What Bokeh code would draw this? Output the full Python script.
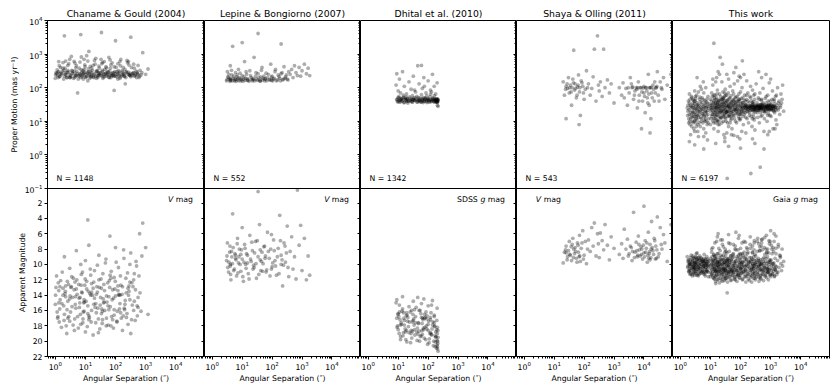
from bokeh.plotting import figure
from bokeh.layouts import column, row
from bokeh.models import Range1d, FixedTicker, Label, LogAxis, LinearAxis
from bokeh.embed import file_html
from bokeh.resources import INLINE

# ---------------- data (sep ["], proper motion [mas/yr], apparent mag) ----------------
titles = ["Chaname & Gould (2004)", "Lepine & Bongiorno (2007)", "Dhital et al. (2010)",
          "Shaya & Olling (2011)", "This work"]
counts = ["N = 1148", "N = 552", "N = 1342", "N = 543", "N = 6197"]
mag_prefix = ["", "", "SDSS", "", "Gaia"]
mag_italic = ["V", "V", "g", "V", "g"]

cg_stars = [(1.0,190,15.2),(1.1,260,11.5),(1.2,230,17.0),(1.3,300,13.4),(1.4,210,15.8),(1.5,400,12.1),
    (1.6,250,18.2),(1.8,560,14.0),(2.0,3500,9.0),(2.0,220,16.5),(2.2,280,12.8),(2.4,200,19.0),(2.6,330,14.8),
    (3.0,700,10.5),(3.0,240,17.4),(3.3,210,13.0),(3.6,270,15.5),(4.0,190,11.8),(4.3,310,18.6),(4.7,240,14.2),
    (5.0,450,8.2),(5.5,70,16.8),(6.0,220,12.6),(6.5,260,15.0),(7.0,3800,10.0),(7.0,200,17.8),(7.5,290,13.6),
    (8.0,230,11.0),(8.5,180,16.2),(9.0,350,14.6),(10,250,9.5),(10,210,18.8),(11,900,12.2),(12,270,15.4),
    (12,160,4.2),(13,1200,7.5),(13,230,17.2),(14,190,13.8),(15,300,11.4),(16,240,16.0),(18,210,19.2),(20,650,10.8),
    (20,260,14.4),(22,220,17.6),(24,320,12.9),(26,200,15.7),(28,250,8.8),(30,280,18.4),(34,4400,13.1),
    (34,230,16.4),(38,190,11.2),(42,600,14.9),(46,260,9.8),(50,220,17.0),(55,300,12.4),(60,800,15.9),
    (65,240,6.3),(70,200,18.0),(80,270,13.3),(90,83,11.7),(90,230,16.6),(100,2500,14.1),(100,260,7.8),
    (110,210,17.4),(125,320,10.4),(140,190,15.1),(150,700,12.7),(170,250,18.6),(190,220,9.2),(210,130,14.7),
    (230,280,16.9),(250,550,11.1),(280,240,13.5),(320,3200,19.0),(320,210,8.5),(360,260,15.3),(400,500,12.0),
    (450,230,17.3),(500,200,10.2),(560,250,14.3),(630,220,6.0),(700,240,16.1),(800,1100,4.6),(1000,250,7.8),
    (1200,360,16.5),(3.0,200,14.5),(5.0,230,13.2),(15,215,14.0),(25,225,13.6),(40,245,15.0),(60,205,14.2),
    (80,235,17.2),(130,225,13.9),(200,215,15.9),(300,230,12.3),
    (1.05,280,13.0),(1.15,340,16.2),(1.25,200,12.4),(1.35,450,17.5),(1.45,260,14.6),(1.7,310,11.0),
    (1.9,180,15.4),(2.1,380,13.8),(2.3,240,18.0),(2.5,290,12.2),(2.8,520,16.8),(3.1,200,14.1),(3.5,330,11.6),
    (3.9,260,17.9),(4.2,610,13.3),(4.6,220,15.2),(5.2,300,12.0),(5.8,180,18.3),(6.2,380,14.4),(6.8,250,16.5),
    (7.3,820,11.3),(7.8,210,13.7),(8.3,320,17.1),(8.8,270,15.0),(9.5,480,12.7),(10.5,200,14.8),(11.5,290,18.1),
    (12.5,360,13.5),(13.5,250,16.9),(14.5,430,10.6),(15.5,210,17.5),(17,330,14.0),(19,240,12.3),(21,500,15.6),
    (23,190,16.3),(25,310,10.1),(27,270,18.9),(29,380,13.0),(31,230,15.3),(33,700,11.9),(36,300,17.7),
    (39,210,14.5),(41,260,12.6),(44,350,16.0),(48,420,9.3),(52,240,14.9),(57,290,17.9),(62,200,12.1),
    (67,380,15.5),(72,260,10.9),(77,550,14.6),(85,220,18.3),(95,300,13.2),(105,400,9.7),(115,250,16.1),
    (120,180,12.8),(135,290,15.8),(145,450,11.5),(155,230,17.0),(165,320,13.9),(185,260,8.1),(205,350,15.2),
    (220,200,11.8),(240,650,16.4),(260,290,13.1),(300,240,10.0),(340,400,17.2),(380,270,12.9),(420,220,14.8),
    (480,310,9.6),(530,260,16.7),(600,200,11.5),(650,330,13.7),(750,280,8.9),
    (1.02,240,14.0),(1.22,290,16.8),(1.42,220,12.9),(1.65,270,15.1),(1.95,330,17.3),(2.15,250,13.5),
    (2.45,200,15.9),(2.75,290,12.6),(3.2,230,16.2),(3.7,310,14.3),(4.4,200,17.1),(5.3,260,13.9),(6.3,230,15.6),
    (7.2,340,12.7),(8.2,250,17.6),(9.2,290,14.9),(11,220,13.2),(13,300,16.7),(16,270,12.5),(19,200,15.2),
    (23,300,13.9),(27,230,17.1),(32,270,14.3),(37,330,16.1),(43,210,13.4),(49,280,18.0),(56,250,15.4),
    (64,310,13.0),(74,230,16.8),(86,280,14.4),(98,220,12.2),(112,300,17.5),(128,260,14.0),(148,210,16.3),
    (170,290,12.9),(195,240,15.7),(225,300,13.7),(260,250,17.8),(300,270,14.6),(350,230,12.4),(400,280,16.0),
    (460,250,13.3),(520,290,15.4),(2.2,620,14.2),(4.5,540,12.3),(9,700,16.1),(18,460,13.1),(35,520,15.8),
    (70,480,11.8),(140,600,14.0),(280,470,12.8),
    (1.3,600,15.0),(1.8,380,13.1),(2.6,460,17.0),(3.4,850,12.9),(4.8,390,15.7),(6.6,580,14.3),(9.8,420,11.9),
    (12,620,16.4),(16,380,13.6),(22,750,15.1),(28,440,12.0),(37,560,17.2),(50,390,14.1),(66,670,11.4),
    (90,420,15.9),(120,520,13.4),(180,400,16.7),(270,600,14.0),(420,380,11.2),(560,460,15.6)]

lb_stars = [(3.0,160,9.5),(3.2,300,7.2),(3.5,200,11.0),(3.8,180,8.4),(4.0,450,10.2),(4.2,170,12.0),
    (4.5,240,9.0),(4.8,1700,3.4),(5.0,190,7.8),(5.5,160,10.6),(6.0,280,8.8),(6.5,210,11.5),(7.0,170,6.6),
    (7.5,350,9.8),(8.0,200,8.0),(9.0,160,10.9),(10,2200,5.2),(10,230,9.3),(11,180,12.2),(12,600,7.4),
    (13,190,10.0),(14,250,8.6),(16,170,11.2),(18,320,6.2),(20,200,9.6),(22,160,8.2),(25,800,10.4),
    (28,220,7.0),(30,180,11.8),(34,4100,0.5),(34,260,9.0),(38,170,4.8),(42,210,10.8),(46,400,8.4),
    (50,190,9.9),(56,160,7.6),(63,270,11.0),(70,200,5.8),(80,170,9.2),(90,500,8.0),(100,220,10.3),
    (112,180,6.8),(125,300,9.5),(140,160,11.4),(160,240,7.9),(180,190,3.6),(200,2000,10.0),(200,260,8.8),
    (225,170,12.8),(250,420,7.2),(280,210,9.7),(320,180,5.0),(360,300,11.6),(400,250,8.3),(450,350,6.4),
    (500,200,10.6),(560,450,9.0),(630,280,11.9),(700,230,0.3),(800,400,7.5),(900,220,4.9),(1000,320,10.8),
    (1200,500,6.6),(1400,260,12.0),(1600,380,8.9),(1800,230,11.4),(4.0,165,10.0),(6.0,175,9.2),
    (9.0,185,8.7),(15,165,9.8),(24,175,10.1),(40,160,9.4),(60,180,8.9),(95,165,10.6),
    (3.1,175,8.9),(3.3,210,10.4),(3.6,250,9.7),(3.9,155,7.6),(4.1,190,11.3),(4.4,330,8.3),(4.7,160,9.9),
    (5.2,220,10.8),(5.7,180,8.6),(6.2,155,9.4),(6.8,240,7.3),(7.2,190,11.1),(7.8,160,9.0),(8.5,270,10.0),
    (9.5,175,8.1),(10.5,155,11.6),(11.5,210,9.7),(12.5,165,7.9),(13.5,300,10.5),(15,185,8.8),(17,155,11.9),
    (19,230,9.3),(21,175,7.1),(23,190,10.6),(26,160,8.5),(29,280,9.9),(32,165,6.9),(36,200,11.3),
    (40,155,8.1),(44,330,9.6),(48,170,10.9),(53,220,7.7),(58,185,9.2),(66,160,10.7),(75,250,8.3),
    (85,175,11.5),(95,205,6.1),(105,160,9.8),(118,190,8.2),(130,350,10.2),(150,170,9.0),(170,215,11.2),
    (190,160,6.9),(215,280,9.4),(240,180,10.1),(270,190,7.6),(300,240,8.5),(340,170,10.4)]

dh_stars = [(9,45,17.0),(10,40,18.5),(11,50,16.2),(12,38,19.4),(13,47,17.8),(14,42,15.8),(15,52,18.9),
    (16,36,17.3),(18,44,19.8),(20,48,16.6),(22,39,18.1),(24,53,17.5),(26,42,20.2),(28,46,16.0),(30,37,18.7),
    (33,50,17.1),(36,41,19.2),(40,45,15.6),(44,38,18.3),(48,51,17.7),(52,43,20.0),(57,40,16.4),(62,47,18.6),
    (68,36,17.2),(74,44,19.6),(80,50,16.9),(88,39,18.0),(96,46,20.4),(105,42,17.4),(115,53,19.0),(125,38,16.3),
    (135,45,18.4),(150,41,20.6),(160,48,17.6),(170,37,19.3),(180,44,18.8),(190,40,20.9),(200,46,19.9),
    (205,36,18.2),(210,42,20.3),(9.5,38,18.0),(10.5,55,16.8),(12.5,44,17.6),(17,49,18.4),(21,35,16.9),
    (27,40,19.0),(34,43,17.9),(42,55,18.8),(55,38,19.4),(65,42,17.0),(78,47,18.2),(92,36,16.7),(110,40,19.7),
    (140,50,17.9),(175,43,20.1),(195,38,17.3),(215,45,19.5),(11.5,42,17.2),(19,41,18.6),(31,44,16.5),
    (46,41,19.1),(70,40,18.5),(100,44,17.8),(130,42,19.2),(165,40,18.0),(208,41,20.0),(8.5,120,15.0),
    (9,260,14.6),(10,80,16.4),(11,180,15.3),(12,70,19.8),(14,300,14.2),(16,110,17.9),(19,65,16.3),
    (23,150,15.5),(27,90,18.6),(32,220,14.8),(38,75,17.6),(45,450,14.3),(50,130,16.0),(60,460,15.1),
    (64,95,19.1),(72,200,14.5),(85,70,16.2),(100,160,15.4),(120,85,18.9),(140,250,14.7),(160,110,16.8),
    (180,65,19.5),(200,140,15.7),(215,28,21.3),(205,30,20.7),
    (9.2,43,18.2),(9.8,50,16.5),(10.8,37,19.0),(11.8,46,17.9),(13.5,40,16.1),(14.5,49,19.3),(15.5,36,17.0),
    (17.5,44,18.8),(18.5,52,16.7),(19.5,39,20.1),(20.5,45,17.4),(23,41,18.9),(25,48,16.2),(28.5,38,19.6),
    (31.5,46,17.3),(35,42,18.5),(38,50,16.8),(43,37,19.9),(47,45,17.6),(50,41,18.7),(54,49,16.0),(59,37,19.3),
    (63,44,17.7),(70,51,18.3),(76,39,16.5),(83,45,19.8),(90,42,17.1),(100,48,18.6),(108,37,20.2),(118,44,16.9),
    (130,40,19.1),(145,46,17.5),(155,38,20.0),(165,45,18.1),(172,41,20.7),(185,47,19.4),(192,37,18.5),
    (198,43,20.5),(202,39,19.0),(207,46,21.0),(212,40,18.6),(15,60,16.3),(30,58,17.5),(60,62,16.9),
    (90,57,18.4),(120,64,17.2),(160,58,16.6),(35,85,15.9),(75,110,17.0),(130,75,15.3)]

so_stars = [(20,150,9.8),(22,60,8.4),(25,110,7.6),(25,12,8.5),(28,95,9.0),(30,200,8.2),(32,70,7.0),
    (35,120,8.8),(38,30,9.5),(40,100,7.4),(42,180,6.6),(45,1300,8.0),(48,85,8.6),(50,130,7.8),(55,50,9.2),
    (60,105,7.2),(65,240,8.4),(68,8,9.0),(70,75,6.2),(75,15,9.6),(80,160,7.9),(90,110,5.6),(100,45,8.8),
    (110,90,7.0),(120,320,9.9),(140,130,6.8),(160,60,8.3),(180,95,5.2),(200,210,7.6),(220,1400,4.6),
    (250,40,8.9),(280,3500,6.0),(300,120,7.3),(320,80,9.1),(350,150,5.9),(400,55,6.9),(450,1400,8.1),
    (500,100,4.8),(600,170,7.5),(700,70,9.4),(800,130,6.4),(1000,35,7.9),(1500,100,8.7),(1800,60,7.3),
    (2000,140,9.2),(2200,50,5.4),(2500,95,8.0),(2800,30,6.7),(3000,100,8.9),(3500,200,7.6),(4000,100,9.5),
    (4200,105,8.3),(4500,45,3.2),(5000,80,8.4),(5500,100,7.1),(6000,25,9.0),(6200,100,8.8),(6500,150,6.3),
    (7000,60,8.1),(8000,100,7.7),(8300,6,8.7),(9000,40,9.3),(9500,98,7.5),(10000,110,2.4),(10000,70,8.5),
    (11000,18,6.9),(12000,100,7.9),(13000,50,9.7),(14000,250,5.8),(15000,30,8.6),(16000,100,7.4),
    (16000,4.5,9.4),(17000,12,9.1),(17500,102,8.0),(18000,70,4.4),(20000,120,8.2),(22000,40,6.6),
    (25000,100,7.6),(26000,100,9.2),(28000,300,3.8),(30000,60,9.0),(35000,150,5.2),(40000,90,8.0),
    (45000,200,6.1),(50000,45,7.2),(60000,120,9.6),(80000,250,4.8),
    (24,90,8.1),(27,130,9.4),(33,100,8.7),(37,75,7.7),(44,140,9.1),(52,95,8.3),(58,60,9.7),(63,120,7.5),
    (72,100,8.9),(85,140,7.2),(95,70,9.3),(130,100,8.0),(3200,70,8.6),(3800,130,7.8),(4800,60,9.1),
    (5800,90,8.2),(6800,40,7.4),(7500,100,8.9),(8500,75,8.0),(10500,55,9.0),(11500,100,8.4),(12500,80,7.2),
    (13500,35,8.8),(14500,65,9.2),(15500,100,8.3),(19000,50,7.8),(21000,90,8.7),(23000,150,6.9),
    (24000,70,9.3),(27000,110,8.1),(32000,40,8.6),(38000,100,7.4)]

tw_stars = [(1.8,20,10.2),(1.9,12,9.4),(2.0,35,10.8),(2.1,8,9.9),(2.2,25,11.2),(2.3,15,8.8),(2.4,50,10.4),
    (2.5,10,9.6),(2.6,18,11.0),(2.7,30,9.2),(2.8,6,10.6),(2.9,22,9.8),(3.0,14,11.4),(3.1,40,10.0),(3.2,9,9.0),
    (3.3,28,10.7),(3.4,16,8.6),(3.5,60,9.7),(3.6,11,10.9),(3.7,24,9.3),(3.8,5,10.3),(3.9,32,11.5),(4.0,13,9.5),
    (4.2,19,10.1),(4.4,45,8.9),(4.6,7,10.5),(4.8,26,9.1),(5.0,12,11.1),(5.2,36,10.0),(5.4,17,9.6),(5.6,9,10.8),
    (5.8,23,9.4),(6.0,70,10.2),(6.2,14,8.7),(6.4,30,11.3),(6.6,10,9.9),(6.8,20,10.6),(7.0,4.5,9.3),(7.2,38,10.4),
    (7.4,15,11.0),(7.6,27,9.0),(7.8,8,10.7),(8.0,21,9.7),(8.3,55,10.1),(8.6,12,11.6),(9.0,33,9.5),(2.2,4,10.0),
    (3.0,80,9.8),(4.0,3.5,10.4),(5.0,90,9.2),(6.0,6,11.0),(1.7,25,9.0),(2.6,45,10.2),(3.4,7,9.5),(4.6,110,10.9),
    (5.8,150,9.6),(7.0,100,10.1),(2.0,2.5,10.6),(8.0,2.8,9.3),(3.6,200,8.5),
    (1.8,30,9.5),(1.9,9,10.9),(2.0,16,10.0),(2.1,45,11.3),(2.2,12,9.1),(2.3,28,10.5),(2.4,7,9.7),(2.5,20,11.5),
    (2.6,35,8.9),(2.7,14,10.3),(2.8,25,11.1),(2.9,10,9.3),(3.0,40,10.6),(3.1,18,9.8),(3.2,55,11.2),(3.3,12,10.1),
    (3.5,22,9.1),(3.6,30,11.4),(3.8,15,9.9),(4.0,26,10.7),(4.2,9,11.3),(4.4,20,9.4),(4.6,38,10.3),(4.8,13,9.8),
    (5.0,24,10.9),(5.3,50,9.6),(5.6,16,10.4),(5.9,28,11.2),(6.2,11,9.2),(6.5,42,10.0),(6.8,18,11.5),(7.1,25,9.6),
    (7.5,10,10.8),(7.9,35,9.9),(8.3,16,11.0),(8.8,24,10.3),(2.0,65,9.8),(3.0,5,10.5),(4.0,75,9.1),(6.0,3.5,10.2),
    (1.75,15,10.4),(1.85,40,9.7),(1.95,22,11.0),(2.05,10,10.2),(2.15,30,9.4),(2.25,18,10.8),(2.35,55,10.0),
    (2.45,13,11.3),(2.55,26,9.5),(2.65,9,10.6),(2.75,42,10.1),(2.85,17,9.1),(2.95,33,11.0),(3.05,11,10.4),
    (3.15,24,9.7),(3.25,48,10.9),(3.45,14,10.2),(3.55,36,9.3),(3.75,20,10.6),(3.85,8,11.2),(4.1,29,9.9),
    (4.3,16,10.5),(4.5,52,9.5),(4.7,22,11.1),(4.9,10,10.0),(5.1,31,9.4),(5.5,20,10.7),(5.7,44,10.3),
    (6.1,15,9.8),(6.3,25,11.0),(6.7,34,9.5),(6.9,12,10.4),(7.3,19,9.9),(7.7,46,10.9),(8.1,28,10.2),(8.5,9,9.6),
    (10,20,10.5),(10,45,9.2),(10,8,11.6),(11,14,10.0),(11,30,8.4),(11,70,11.2),(12,10,9.6),(12,25,10.9),
    (12,120,7.8),(13,18,11.8),(13,40,9.9),(13,6,10.3),(14,28,9.0),(14,12,11.1),(14,60,10.6),(15,22,12.2),
    (15,35,9.4),(15,9,8.9),(16,16,10.2),(16,50,11.4),(16,200,7.0),(17,26,9.7),(17,11,10.8),(17,85,6.4),
    (18,32,11.9),(18,19,8.6),(18,5,10.1),(19,42,10.4),(19,14,9.1),(20,24,11.5),(20,65,9.8),(20,8,12.4),
    (21,30,10.0),(21,17,8.2),(22,55,11.0),(22,12,9.5),(23,38,10.7),(23,21,12.0),(24,150,9.0),(24,9,11.3),
    (25,28,10.3),(25,45,7.4),(26,15,9.8),(26,75,11.7),(27,33,8.8),(27,20,10.9),(28,4,9.4),(28,50,10.5),
    (29,25,12.1),(30,13,11.0),(30,36,9.2),(31,90,8.0),(32,22,10.6),(32,60,11.8),(33,10,9.9),(34,30,10.2),
    (35,18,8.5),(35,250,11.4),(36,40,9.6),(37,14,12.3),(38,27,10.8),(39,70,9.3),(40,20,11.2),(40,7,10.0),
    (42,48,8.3),(43,16,10.9),(44,32,11.6),(45,110,9.7),(46,24,10.4),(47,11,8.9),(48,58,11.0),(50,19,9.4),
    (50,38,12.0),(52,6,10.7),(54,28,9.1),(55,80,10.2),(56,15,11.5),(58,44,8.6),(60,22,10.6),(62,130,9.8),
    (63,12,11.9),(65,35,10.1),(67,26,7.6),(70,52,11.3),(72,17,9.5),(74,9,10.8),(76,40,12.2),(78,23,9.0),
    (80,160,10.5),(82,30,8.1),(85,14,11.1),(88,65,9.7),(90,20,10.3),(92,45,11.7),(95,3,9.3),(98,27,10.9),
    (100,12,8.7),(100,75,11.4),(104,34,9.9),(108,19,10.4),(112,100,7.2),(116,24,12.0),(120,50,9.6),
    (124,8,11.0),(128,30,10.1),(132,16,8.4),(136,60,11.6),(140,22,9.2),(145,40,10.7),(150,13,12.3),
    (18,300,6.0),(13,2100,8.8),(30,2.5,10.8),(60,3.8,9.0),(36,0.2,9.5),(36,20,13.7),(25,500,6.8),(70,400,5.8),
    (110,5,10.0),(15,150,12.5),(35,4.5,11.8),(90,220,6.2),(130,250,7.0),(21,800,9.3),(115,630,8.6),
    (10,30,11.0),(10.5,12,9.9),(11,22,10.7),(11.5,55,9.0),(12,16,11.4),(12.5,35,10.2),(13,9,9.5),(13.5,26,11.9),
    (14,45,10.5),(14.5,18,9.2),(15,30,10.8),(15.5,11,11.6),(16,24,9.8),(16.5,65,10.4),(17,15,12.0),(17.5,38,9.6),
    (18,8,10.9),(19,28,11.3),(20,18,9.9),(21,44,10.6),(22,25,8.8),(23,13,11.1),(24,32,10.0),(25,20,12.2),
    (26,50,9.4),(27,10,10.7),(28,27,11.6),(29,16,9.7),(30,40,10.4),(31,22,11.9),(32,12,8.9),(33,35,10.8),
    (34,19,9.5),(35,60,11.2),(36,26,10.1),(37,9,9.3),(38,44,11.0),(40,30,10.3),(41,15,11.7),(43,24,9.8),
    (45,50,10.6),(47,18,12.1),(49,34,9.4),(51,12,10.9),(53,26,11.4),(55,42,8.7),(57,20,10.2),(59,65,11.1),
    (61,15,9.6),(64,30,10.7),(66,22,12.0),(68,10,9.9),(71,38,10.4),(73,25,11.6),(77,55,9.2),(79,17,10.9),
    (83,33,11.3),(86,21,8.8),(89,12,10.1),(94,40,11.8),(97,24,9.5),(102,16,10.6),(106,48,11.1),(110,28,9.8),
    (114,20,10.3),(118,36,11.9),(122,14,9.1),(126,25,10.7),(134,42,11.2),(142,18,9.6),(146,30,10.4),
    (10.2,25,10.1),(10.8,40,11.3),(11.3,16,9.5),(11.8,32,10.4),(12.3,20,11.7),(12.8,12,10.6),(13.3,50,9.8),
    (13.8,22,10.9),(14.3,35,11.5),(14.8,14,10.0),(15.3,26,9.3),(15.8,44,10.7),(16.3,19,11.2),(16.8,30,10.1),
    (17.3,10,9.7),(17.8,24,11.0),(18.5,40,10.3),(19.5,21,9.6),(20.5,33,10.9),(21.5,13,11.8),(22.5,27,10.2),
    (23.5,45,9.4),(24.5,18,10.6),(25.5,36,11.3),(26.5,23,9.9),(27.5,14,10.5),(28.5,31,11.1),(29.5,55,10.0),
    (31,17,10.7),(33,28,11.5),(35,41,9.7),(37,20,10.4),(39,33,11.0),(42,14,10.1),(44,26,9.5),(46,38,11.3),
    (48,21,10.6),(52,30,9.9),(56,17,11.0),(60,40,10.4),(64,23,11.7),(69,32,9.6),(75,19,10.8),(81,27,10.2),
    (87,45,11.4),(93,16,9.8),(99,30,10.6),(107,22,11.1),(117,35,9.7),(127,19,10.9),(138,28,10.3),(148,24,11.6),
    (12,180,9.4),(20,250,10.6),(40,180,7.2),(60,280,11.0),(100,200,9.1),(160,160,10.0),(30,3.2,9.7),
    (50,4,10.8),(80,3.5,11.4),(150,4.5,8.9),(250,3,10.2),(900,5,9.4),(1400,6,10.7),(3,2,10.3),(6,1.5,9.6),
    (15,2.2,10.9),(40,1.8,9.2),(100,1.6,10.5),(300,2.2,9.9),(600,1.5,10.8),
    (11,25,8.0),(14,15,7.2),(17,35,8.6),(22,20,6.8),(27,45,7.7),(33,18,8.3),(40,28,6.1),(48,14,8.9),
    (58,33,7.4),(70,21,8.1),(85,40,6.6),(100,17,7.9),(120,26,8.8),(145,32,7.1),(175,19,8.4),(210,27,6.4),
    (250,36,7.6),(300,22,8.7),(360,29,7.0),(430,24,8.2),(520,33,6.7),(620,20,7.8),(740,27,8.5),(880,31,6.9),
    (1050,23,7.5),(1250,29,8.3),(1500,21,6.3),(1800,35,7.7),(2100,26,8.9),(13,60,8.7),(19,10,7.9),(30,70,8.4),
    (45,9,7.3),(65,50,8.0),(95,11,8.6),(160,60,7.8),(280,13,8.1),(500,45,7.2),(800,15,8.0),(1300,40,7.0),
    (150,25,10.8),(160,45,9.4),(165,12,11.5),(170,28,8.6),(175,70,10.2),(180,22,11.9),(185,9,9.8),
    (190,35,10.5),(195,26,12.1),(200,18,9.1),(205,55,11.0),(210,24,10.0),(215,110,7.9),(220,29,11.4),
    (225,14,9.6),(230,40,10.7),(235,23,12.3),(240,7,9.3),(245,27,10.4),(250,85,8.4),(255,21,11.2),
    (260,33,9.9),(265,16,10.6),(270,26,11.8),(275,60,9.0),(280,24,10.2),(285,11,7.2),(290,30,11.1),
    (295,45,9.5),(300,23,10.9),(310,19,12.0),(320,28,8.9),(330,130,10.3),(340,22,11.6),(350,36,9.7),
    (360,25,10.5),(370,13,6.6),(380,27,11.3),(390,50,9.2),(400,21,10.1),(410,30,12.2),(420,9,9.8),
    (430,24,10.8),(440,70,8.2),(450,26,11.5),(460,18,9.4),(470,32,10.6),(480,23,11.9),(490,42,7.6),
    (500,28,10.0),(520,15,11.1),(540,25,9.3),(560,95,10.7),(580,22,12.1),(600,30,9.9),(620,12,10.4),
    (640,27,8.7),(660,48,11.4),(680,24,9.6),(700,20,10.9),(720,35,6.2),(740,26,11.7),(760,10,10.2),
    (780,29,9.0),(800,60,11.0),(820,23,10.5),(840,17,12.0),(860,31,8.5),(880,25,11.2),(900,140,9.7),
    (930,22,10.6),(960,40,7.0),(1000,27,11.6),(1030,14,9.4),(1060,33,10.8),(1100,24,8.0),(1150,80,11.3),
    (1200,21,9.9),(1250,28,10.3),(1300,45,6.0),(1350,18,11.5),(1400,26,9.2),(1450,55,10.7),(1500,11,8.6),
    (1600,30,11.0),(1700,100,9.5),(1800,22,7.4),(1900,40,10.4),(2000,16,8.8),(2200,65,9.9),(2500,120,10.2),
    (1600,8,11.3),(600,5,9.1),(800,4,10.6),(300,5.5,11.8),(450,0.43,10.0),(220,0.28,9.5),(1200,6,7.8),
    (2300,35,10.8),(500,200,6.8),(700,250,8.0),(1000,180,5.6),(400,300,7.3),
    (155,30,9.3),(162,20,10.9),(168,26,8.0),(178,40,11.3),(188,24,9.6),(198,15,10.4),(208,28,7.4),
    (218,50,11.7),(228,22,9.1),(238,30,10.6),(248,12,8.5),(258,27,11.0),(268,38,9.4),(278,20,10.2),
    (288,26,6.9),(298,65,11.5),(315,25,9.8),(335,30,10.7),(355,18,8.3),(375,28,11.2),(395,22,9.5),
    (415,45,10.3),(435,26,7.7),(455,31,11.8),(475,14,9.9),(495,25,10.6),(530,29,8.1),(550,20,11.3),
    (570,35,9.6),(590,24,10.2),(630,28,6.5),(650,18,11.6),(690,30,9.2),(710,55,10.5),(750,23,8.4),
    (790,27,11.0),(830,40,9.7),(870,21,10.8),(910,28,7.3),(950,15,11.4),(990,30,9.5),(1050,24,10.1),
    (1120,45,8.6),(1180,27,11.2),(1280,20,9.8),(1380,33,10.6),(1480,26,7.9),(1550,60,10.3),(1750,25,11.0),
    (2100,30,9.1),(2400,45,8.0),(2700,20,9.6),
    (158,27,10.1),(172,23,11.2),(192,29,9.7),(212,21,10.8),(232,26,11.5),(252,31,9.9),(272,22,10.5),
    (292,28,11.3),(325,24,10.0),(345,27,9.4),(365,21,11.0),(385,30,10.3),(405,25,11.7),(425,28,9.6),
    (445,22,10.7),(465,27,10.2),(485,25,11.4),(510,30,9.8),(550,24,10.9),(610,27,10.4),(670,22,11.2),
    (730,28,9.9),(770,25,10.6),(850,29,11.0),(890,23,10.1),(970,26,9.7),(1020,30,11.3),(1090,22,10.5),
    (1160,28,9.9),(1230,24,10.9),(1330,27,11.6),(1430,23,10.2)]

catalogs = [cg_stars, lb_stars, dh_stars, so_stars, tw_stars]

x_major = [1, 10, 100, 1000, 10000]
pm_major = [0.1, 1, 10, 100, 1000, 10000]
mag_major = [2, 4, 6, 8, 10, 12, 14, 16, 18, 20, 22]

# ---------------- styling ----------------
FONT = "DejaVu Sans"
FS = "7.75px"
FRAME_W = [157, 156, 156, 156, 157]
FRAME_H = 168
LEFT = 47
TOP = 20
OVER = 6       # room below the top row for its lowest tick label
BOTTOM = 30
DOT = dict(size=3.8, fill_color="black", fill_alpha=0.32, line_color=None)

x_minor = [m * 10.0 ** e for e in range(-1, 5) for m in range(2, 10)]
pm_minor = [m * 10.0 ** e for e in range(-1, 4) for m in range(2, 10)]


def style_axis(ax):
    ax.axis_line_color = "black"
    ax.major_tick_line_color = "black"
    ax.minor_tick_line_color = "black"
    ax.major_label_text_font = FONT
    ax.major_label_text_font_size = FS
    ax.major_label_text_color = "black"
    ax.axis_label_text_font = FONT
    ax.axis_label_text_font_size = FS
    ax.axis_label_text_font_style = "normal"
    ax.axis_label_text_color = "black"
    ax.major_tick_out = 3
    ax.major_tick_in = 0
    ax.minor_tick_out = 2
    ax.minor_tick_in = 0
    ax.major_label_standoff = 2
    ax.axis_label_standoff = 3


def add_mag_label(p, col):
    base = dict(y=1.5, text_font=FONT, text_font_size=FS, text_baseline="alphabetic", text_color="black")
    if col == 3:
        xa = 2.4
        p.add_layout(Label(x=xa, text=mag_italic[col], text_font_style="italic", text_align="left", **base))
        p.add_layout(Label(x=xa, x_offset=8, text="mag", text_align="left", **base))
    else:
        xa = 3.7e4
        p.add_layout(Label(x=xa, text="mag", text_align="right", **base))
        p.add_layout(Label(x=xa, x_offset=-19.5, text=mag_italic[col], text_font_style="italic",
                           text_align="right", **base))
        if mag_prefix[col]:
            p.add_layout(Label(x=xa, x_offset=-27.2, text=mag_prefix[col], text_align="right", **base))


def panel(col, top):
    stars = catalogs[col]
    sep = [s[0] for s in stars]
    pm = [s[1] for s in stars]
    mag = [s[2] for s in stars]
    w = FRAME_W[col] + (LEFT if col == 0 else 0) + (2 if col == 4 else 0)
    h = FRAME_H + (TOP + OVER if top else BOTTOM)
    p = figure(width=w, height=h, x_axis_type="log",
               y_axis_type="log" if top else "linear",
               x_range=Range1d(0.55, 9e4),
               y_range=Range1d(0.1, 1e4) if top else Range1d(22, 0.1),
               x_axis_location=None if top else "below",
               y_axis_location="left" if col == 0 else None,
               output_backend="svg", toolbar_location=None,
               min_border_left=LEFT if col == 0 else 0,
               min_border_right=2 if col == 4 else 0,
               min_border_top=TOP if top else 0,
               min_border_bottom=OVER if top else BOTTOM)
    p.grid.visible = False
    p.outline_line_color = "black"
    p.outline_line_width = 1
    p.outline_line_alpha = 1
    if top:
        p.background_fill_color = "white"
        p.border_fill_color = "white"
        p.title.text = titles[col]
        p.title.align = "center"
        p.title.text_font = FONT
        p.title.text_font_size = "9.3px"
        p.title.text_font_style = "normal"
        p.title.text_color = "black"
        p.title.standoff = 3
        p.title.offset = 0
        p.scatter(sep, pm, **DOT)
        p.add_layout(Label(x=1.1, y=0.2, text=counts[col], text_font=FONT, text_color="black",
                           text_font_size=FS, text_baseline="alphabetic"))
        yticker = FixedTicker(ticks=pm_major, minor_ticks=pm_minor)
    else:
        # transparent so the top row's lowest tick label shows through
        p.background_fill_color = None
        p.border_fill_color = None
        p.scatter(sep, mag, **DOT)
        yticker = FixedTicker(ticks=mag_major, minor_ticks=[])
        add_mag_label(p, col)
        p.xaxis.ticker = FixedTicker(ticks=x_major, minor_ticks=x_minor)
        p.xaxis.axis_label = "Angular Separation (″)"
        style_axis(p.xaxis[0])
        p.xaxis.major_label_standoff = 1
        p.xaxis.axis_label_standoff = 1

    if col == 0:
        p.yaxis.ticker = yticker
        p.yaxis.axis_label = "Proper Motion (mas yr⁻¹)" if top else "Apparent Magnitude"
        style_axis(p.yaxis[0])
    if col < 4:
        ax = (LogAxis if top else LinearAxis)(ticker=yticker)
        style_axis(ax)
        ax.major_tick_out = 0
        ax.major_tick_in = 3
        ax.minor_tick_out = 0
        ax.minor_tick_in = 2
        ax.major_label_text_font_size = "0px"
        ax.major_label_text_color = None
        ax.major_label_standoff = 0
        ax.axis_label = None
        p.add_layout(ax, "right")
    return p


top_row = row(*[panel(c, True) for c in range(5)], spacing=0)
bot_row = row(*[panel(c, False) for c in range(5)], spacing=0, margin=(-OVER, 0, 0, 0))
layout = column(top_row, bot_row, spacing=0)

open("out.html", "w").write(file_html(layout, INLINE))
